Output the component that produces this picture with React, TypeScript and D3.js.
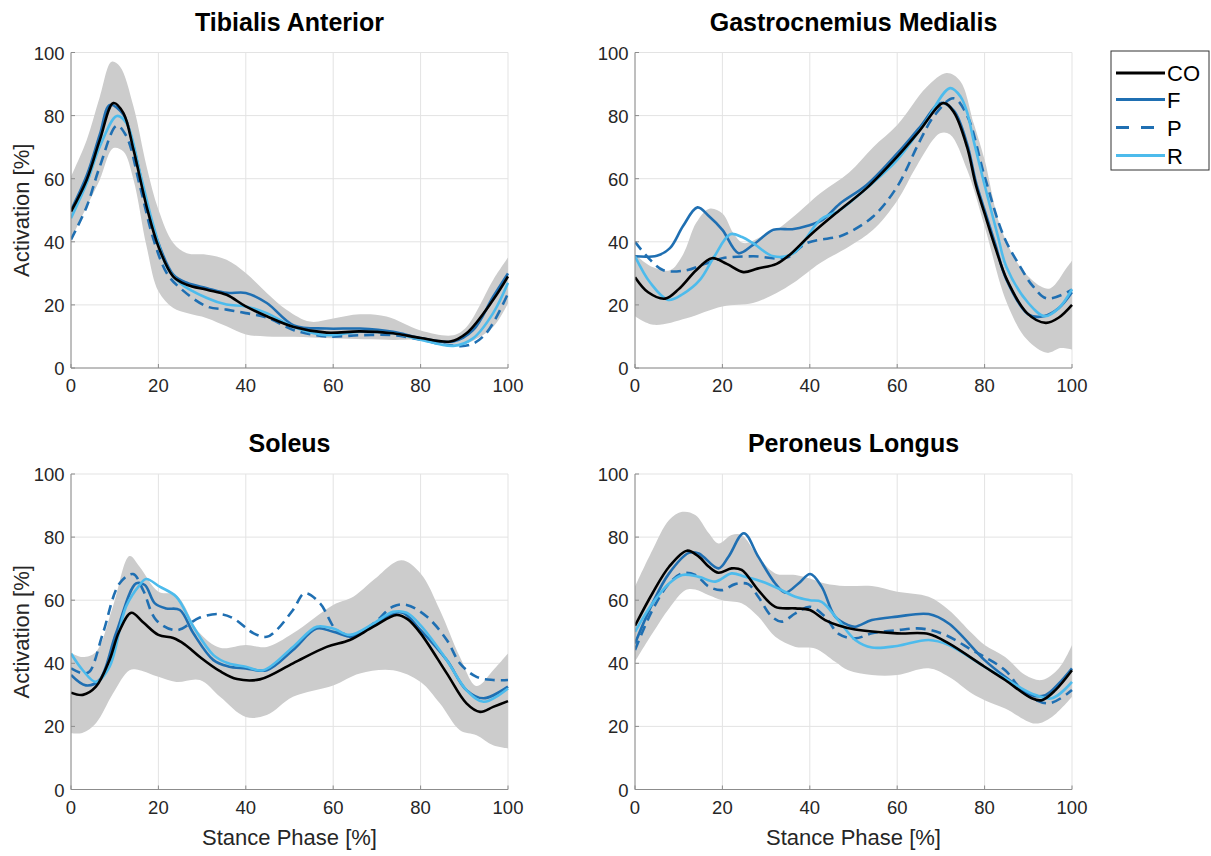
import React from "react";
import * as d3 from "d3";

type P = [number, number];

// ---------- data (stance phase %, activation %) ----------
const X_TICKS = [0, 20, 40, 60, 80, 100];
const Y_TICKS = [0, 20, 40, 60, 80, 100];
const GROUPS = ["CO", "F", "P", "R"];
const MUSCLES = ["Tibialis Anterior", "Gastrocnemius Medialis", "Soleus", "Peroneus Longus"];

const TA_CO: P[] = [[0,49.6],[3.6,59.7],[6.6,72.3],[9.7,84],[12,80.8],[14.3,69.2],[17.3,51.2],[20,38.5],[23.4,29],[26.5,26.4],[31.1,24.8],[35.6,23.2],[40,19.5],[44.8,16.4],[51,13],[58.5,11.2],[66.1,11.6],[73.7,11],[80,9.5],[86.8,8.4],[90.5,11],[96.6,21.6],[100,29]];
const TA_F: P[] = [[0,50],[3.6,61],[6.6,74],[8.9,83.4],[12,80.3],[14.3,70.2],[17.3,52.3],[20,39.6],[23.4,29.6],[26.5,27],[31.1,25.3],[35.6,23.8],[40,23.8],[44.8,20.6],[51,13.5],[58.5,12.5],[66.1,12.5],[73.7,11.5],[80,9.5],[87.5,8.4],[92,12],[96.6,22.6],[100,30]];
const TA_P: P[] = [[0,40.7],[3.6,51.2],[6.6,63.9],[10.5,76.8],[12.7,73.4],[15.8,57.5],[18.9,40.7],[21.9,30.1],[25,25.3],[31.1,19.5],[35.6,18.5],[40,17.4],[44.8,16],[51,12],[58.5,10],[66.1,10.4],[73.7,10.4],[80,9],[86,7.3],[91.2,7.3],[95,11],[100,23.6]];
const TA_R: P[] = [[0,47.5],[3.6,58.6],[6.6,70.2],[10.5,79.9],[12.7,77.6],[15.8,61.8],[18.9,44.9],[21.9,32.2],[25,26.9],[31.1,22.2],[35.6,20.1],[40,19.5],[44.8,17.4],[51,13],[58.5,10.4],[66.1,11.5],[73.7,11],[80,9],[87.5,7],[92,9.4],[96.6,17.4],[100,27]];
const TA_UP: P[] = [[0,60.7],[3.6,72.3],[6.6,86],[9.3,97.1],[11.2,95.6],[14.3,82.9],[17.3,63.9],[20,50.2],[23.4,39.6],[26.5,36.4],[31.1,35.9],[35.6,34.3],[40,30.1],[44.8,23.8],[49.4,18.4],[54.7,14.7],[60,15.7],[66.1,17],[72.2,16.3],[80,11.9],[87.5,10.4],[90.5,13],[96.6,27.9],[100,35]];
const TA_LO: P[] = [[0,40.7],[3.6,51.2],[6.6,59.7],[9.7,69.7],[12,68.6],[14.3,59.7],[17.3,38.5],[20,24.3],[23.4,19],[26.5,17.4],[31.1,15.8],[35.6,13.2],[40,10.6],[44.8,10],[51,9.9],[60,9.4],[73.7,8.9],[80,8.9],[86,7.3],[90.5,7.8],[96.6,13],[100,20.5]];

const GM_CO: P[] = [[0,28.8],[3,24],[6.9,22],[10,25],[14,31],[17.6,34.8],[21,33],[24.8,30.4],[28,31.5],[32.4,33],[35.5,36],[40,42],[46.8,50],[53,57],[60,67],[65,75],[70.6,84],[73,81],[76,70],[78,58],[80,49],[82.5,38],[85.1,28],[89.7,17.4],[94,14.3],[97,16],[100,20]];
const GM_F: P[] = [[0,35.4],[5,35.6],[8,38],[11,45],[14.3,50.9],[17,48],[20,43.8],[23.7,36.4],[27,39],[31.7,43.8],[36,44],[39.3,45],[43,47],[46.8,52],[53,58],[60,68],[65,76],[70,84],[73,81.5],[76,71],[78,59],[80,50],[82.5,39],[85,28],[90,17],[93.5,16.4],[97,19],[100,24]];
const GM_P: P[] = [[0,40],[3,35],[6.5,31],[11.8,31],[16,33],[20,34.8],[27,35.4],[34.7,35],[39.3,39.6],[46.8,41.7],[49,43],[54.5,48],[60,57.5],[65.2,72],[68.5,80],[72.9,85.5],[76,80],[80,60.7],[84.4,41.7],[88.2,32],[91,26],[94.3,22],[100,24.8]];
const GM_R: P[] = [[0,35.4],[3.5,27],[7.6,21.6],[11,23.5],[14.9,28],[18,35],[21.8,42.4],[24.5,41.5],[27,39.6],[31.7,35.4],[36.3,36.4],[42.4,47],[46.8,50],[53,57],[60,66],[66,77],[72.1,88.7],[74.5,86],[76,81],[77.5,72],[80,58],[83,42],[85,32],[90,20.6],[93.8,16.4],[97,19],[100,25]];
const GM_UP: P[] = [[0,36],[4,32],[8,31],[11,36],[14,46],[17,50.5],[20,49],[22.5,42.8],[24.8,39.6],[29.4,42],[32.4,43.8],[36.3,48],[42.4,55.4],[49,62],[54.5,70],[60,77],[66.7,89],[71.3,93.5],[74.4,91],[77.5,77.6],[80,66],[83.6,44.9],[88.2,32],[92.8,25.9],[95.1,25.3],[98.9,32],[100,34]];
const GM_LO: P[] = [[0,16.4],[4.2,13.7],[11.8,15.8],[20,19.5],[27,20.6],[32.4,23.8],[36.3,27],[42.4,33.3],[49,38.5],[54.5,43.8],[60,53],[64.4,63.9],[69.8,74.4],[72.1,74],[76,62.8],[80,44.9],[85.1,20.6],[89.7,9],[94.3,4.8],[97.4,6.3],[100,5.8]];

const SO_CO: P[] = [[0,30.7],[2.7,30],[5.7,32.6],[8.8,41],[11,50],[13.8,56],[16.5,53],[20,49],[23.4,48],[26,46],[29.5,42],[34.1,37.5],[38,35],[43.2,34.9],[50.8,40],[58.5,45.2],[63.8,47.4],[69.2,51.6],[74.5,55.3],[77,54],[80,49.5],[86,36.8],[90.5,27.3],[93.6,24.6],[96.6,26.2],[100,28]];
const SO_F: P[] = [[0,36.3],[3.4,33],[6.5,34.7],[10.3,49.5],[14.9,65.3],[16.9,64.8],[19.2,59],[21.8,57.4],[24.9,56.9],[28,49.5],[32.6,41],[36,39],[40,38.4],[44.8,37.8],[50.8,44.2],[56.2,51],[60,50],[64.6,48.4],[68.4,51.6],[73.7,55.8],[76,56],[80,50.5],[86,41],[90.5,31.5],[94.4,28.9],[100,32.6]];
const SO_P: P[] = [[0,38.4],[2.7,36.8],[4.2,37.3],[7.3,49.5],[11.1,65.3],[14.2,68.3],[16.5,63.2],[19.5,53.7],[24.1,50.5],[29.5,54.5],[34.1,55.6],[37.2,54.2],[41.8,49.5],[44.8,48.4],[47,50.5],[50.8,56.9],[53.5,62.2],[57,59],[60.8,50.5],[64.6,49],[69.2,52.6],[73.7,58],[76.8,58.5],[81.4,54.8],[86,47.4],[89,40],[92.8,35.7],[96.6,34.7],[100,34.7]];
const SO_R: P[] = [[0,43.1],[2.7,37.8],[5.7,34.1],[8.8,38.9],[12.6,58],[15.7,64.8],[17.2,66.7],[20.3,64.3],[24.1,61.1],[28,51.6],[32.6,42.6],[36,40],[40,38.9],[44,37.8],[50.8,45.2],[56.2,51.6],[60,51],[63.8,49],[69.2,52.6],[73.7,56.3],[76.8,56],[80,52],[86,41],[90.5,31.5],[94.4,27.8],[100,32]];
const SO_UP: P[] = [[0,43.3],[2.7,42],[5.7,43.6],[9.6,58],[13.4,74],[15.7,70.6],[20,62.7],[24.1,61.6],[29.5,49.5],[34.1,44.9],[40,45.8],[44.8,45.2],[50.8,49.5],[60,58.5],[64.6,61.1],[69.2,66.4],[75.6,72.7],[80,68.5],[84.4,56.9],[89,42],[92.8,32.8],[96.6,37.8],[100,43.1]];
const SO_LO: P[] = [[0,17.8],[2.7,18],[5.7,21],[9.6,30.4],[13.4,37.8],[15.7,37.8],[20,35.7],[24.1,34.1],[29.5,34.7],[34.1,29.4],[40,23],[44.8,23.6],[50.8,29.4],[60,33],[66.1,36.8],[73.7,37.8],[80,34.1],[84.4,27.3],[89,18.8],[92.8,17.2],[96.6,14],[100,13]];

const PL_CO: P[] = [[0,51.9],[4,62.2],[7.8,70.6],[11.9,75.7],[14.6,73.8],[16.9,70.6],[19.1,68.7],[22.1,70.1],[24.4,69.6],[28.2,63.2],[32.1,57.9],[36.7,57.4],[40,56.9],[43.5,53.7],[46.6,52],[50.4,50.7],[60,49.5],[67.2,49.3],[71.8,46.3],[80,38.9],[84.7,34.7],[90.8,28.9],[93.1,28.3],[96.2,31.5],[100,37.8]];
const PL_F: P[] = [[0,46.3],[4,59],[7.8,68.5],[12.3,75],[14.6,74.8],[19.1,70.1],[21.4,73.8],[24.9,81.2],[28.2,73.8],[32.1,65.3],[34.4,62.4],[37.4,65.3],[40.1,68.3],[42.7,64.3],[45.8,54.8],[48.8,52.1],[50.4,51.6],[54.2,53.7],[60,54.8],[67.2,55.6],[71.8,52.6],[80,41],[84.7,35.7],[90.8,29.9],[93.9,29.9],[97,33.6],[100,38.4]];
const PL_P: P[] = [[0,44.2],[4,56.9],[7.8,65.3],[10.8,68.5],[13.8,68],[16.9,64.3],[19.9,63.2],[22.9,65.1],[25.9,65.1],[28.2,61.1],[31.3,54.8],[33.6,53.2],[36.7,55.8],[40,57.9],[43.5,54.8],[46.6,49.3],[50.4,47.9],[54.2,49.5],[60,50.5],[65.6,51],[71,49],[77.1,44.2],[80,42],[84.7,37.8],[89.3,30.4],[94.7,27.3],[100,31.5]];
const PL_R: P[] = [[0,50],[4,59],[7.8,65.3],[10.8,68],[14.6,67.4],[18.4,65.9],[22.1,68.5],[25.2,67.4],[29,65.9],[32.8,63.7],[36.7,61.1],[40,60],[42.7,59.5],[46.5,53.7],[50.4,47.4],[54.2,45],[60,45.5],[67.2,47.4],[71.8,45.8],[80,38.9],[84.7,35.2],[90.8,30.4],[95.4,28.9],[100,34.1]];
const PL_UP: P[] = [[0,64.3],[4,75.9],[7.8,85.4],[10.8,88],[13.8,87],[16.9,81.2],[19.1,78],[22.1,80.7],[24.4,80.7],[28.2,73.8],[32.1,68.5],[36.7,68],[40,66.9],[43.5,65.3],[48,64.5],[54.2,64.5],[60,62.7],[67.2,61.1],[71.8,56.9],[77.1,49.5],[80,45.8],[84.7,42],[89.3,36.3],[93.1,34.7],[97,38.4],[100,45.8]];
const PL_LO: P[] = [[0,40.5],[4,49.5],[7.8,57.4],[11.6,63.2],[13.8,63.4],[16.9,61.6],[20,60],[24.4,59],[28.2,54.8],[32.1,48.4],[36.7,45.2],[41.2,44.7],[45.8,40.5],[48.8,37.8],[54.2,36.3],[60,36.3],[67.2,38.4],[71.8,35.7],[77.1,30.4],[80,28.3],[84.7,25.7],[91.6,20.9],[95.4,23],[100,29.4]];

// ---------- styling / layout ----------
const COLORS: Record<string, string> = { CO: "#000000", F: "#1f6fb2", P: "#1f6fb2", R: "#4dbbec" };
const DASH: Record<string, string | undefined> = { CO: undefined, F: undefined, P: "10 6", R: undefined };
const FONT = "'Liberation Sans', Arial, Helvetica, sans-serif";
const AXIS = "#8c8c8c";

const PANELS = [
  { title: MUSCLES[0], left: 71, right: 508, top: 52.5, bottom: 368, series: [TA_CO, TA_F, TA_P, TA_R], up: TA_UP, lo: TA_LO, ylab: true, xlab: false },
  { title: MUSCLES[1], left: 635, right: 1072, top: 52.5, bottom: 368, series: [GM_CO, GM_F, GM_P, GM_R], up: GM_UP, lo: GM_LO, ylab: false, xlab: false },
  { title: MUSCLES[2], left: 71, right: 508, top: 474, bottom: 789.5, series: [SO_CO, SO_F, SO_P, SO_R], up: SO_UP, lo: SO_LO, ylab: true, xlab: true },
  { title: MUSCLES[3], left: 635, right: 1072, top: 474, bottom: 789.5, series: [PL_CO, PL_F, PL_P, PL_R], up: PL_UP, lo: PL_LO, ylab: false, xlab: true },
];

function Panel({ p }: { p: (typeof PANELS)[number] }) {
  const x = d3.scaleLinear().domain([0, 100]).range([p.left, p.right]);
  const y = d3.scaleLinear().domain([0, 100]).range([p.bottom, p.top]);
  const line = d3
    .line<P>()
    .x((d) => x(d[0]))
    .y((d) => y(d[1]))
    .curve(d3.curveCatmullRom.alpha(0.5));
  const upPath = line(p.up) || "";
  const loPath = line([...p.lo].reverse()) || "";
  const band = upPath + "L" + loPath.slice(1) + "Z";
  const cx = (p.left + p.right) / 2;
  const cy = (p.top + p.bottom) / 2;
  const clipId = "clip" + p.left + "_" + Math.round(p.top);
  return (
    <g>
      <defs>
        <clipPath id={clipId}>
          <rect x={p.left} y={p.top - 2} width={p.right - p.left + 1} height={p.bottom - p.top + 3} />
        </clipPath>
      </defs>
      {X_TICKS.map((t) => (
        <line key={"gx" + t} x1={x(t)} x2={x(t)} y1={p.top} y2={p.bottom} stroke="#e3e3e3" strokeWidth={1} />
      ))}
      {Y_TICKS.map((t) => (
        <line key={"gy" + t} x1={p.left} x2={p.right} y1={y(t)} y2={y(t)} stroke="#e3e3e3" strokeWidth={1} />
      ))}
      <g clipPath={`url(#${clipId})`}>
        <path d={band} fill="#cccccc" stroke="none" />
        {[1, 2, 3, 0].map((i) => (
          <path
            key={GROUPS[i]}
            d={line(p.series[i]) || ""}
            fill="none"
            stroke={COLORS[GROUPS[i]]}
            strokeWidth={2.6}
            strokeDasharray={DASH[GROUPS[i]]}
            strokeLinejoin="round"
          />
        ))}
      </g>
      <line x1={p.left} x2={p.left} y1={p.top} y2={p.bottom} stroke={AXIS} strokeWidth={1} />
      <line x1={p.left} x2={p.right} y1={p.bottom} y2={p.bottom} stroke={AXIS} strokeWidth={1} />
      {X_TICKS.map((t) => (
        <g key={"tx" + t}>
          <line x1={x(t)} x2={x(t)} y1={p.bottom} y2={p.bottom - 4} stroke={AXIS} strokeWidth={1} />
          <text x={x(t)} y={p.bottom + 24} textAnchor="middle" fontSize={18.5} fill="#262626" fontFamily={FONT}>
            {t}
          </text>
        </g>
      ))}
      {Y_TICKS.map((t) => (
        <g key={"ty" + t}>
          <line x1={p.left} x2={p.left + 4} y1={y(t)} y2={y(t)} stroke={AXIS} strokeWidth={1} />
          <text x={p.left - 6.5} y={y(t) + 7} textAnchor="end" fontSize={18.5} fill="#262626" fontFamily={FONT}>
            {t}
          </text>
        </g>
      ))}
      <text x={cx} y={p.top - 22} textAnchor="middle" fontSize={25} fontWeight="bold" fill="#000" fontFamily={FONT}>
        {p.title}
      </text>
      {p.ylab && (
        <text
          transform={`translate(${p.left - 42},${cy}) rotate(-90)`}
          textAnchor="middle"
          fontSize={22}
          fill="#262626"
          fontFamily={FONT}
        >
          Activation [%]
        </text>
      )}
      {p.xlab && (
        <text x={cx} y={p.bottom + 55} textAnchor="middle" fontSize={22} fill="#262626" fontFamily={FONT}>
          Stance Phase [%]
        </text>
      )}
    </g>
  );
}

function Legend() {
  const lx = 1111;
  const ly = 51;
  const rows = [73, 99.5, 127.5, 155.5];
  return (
    <g>
      <rect x={lx} y={ly} width={98} height={119} fill="#fff" stroke="#333" strokeWidth={1} />
      {GROUPS.map((g, i) => (
        <g key={g}>
          <line
            x1={lx + 5}
            x2={lx + 54}
            y1={rows[i]}
            y2={rows[i]}
            stroke={COLORS[g]}
            strokeWidth={3}
            strokeDasharray={g === "P" ? "13 12" : undefined}
          />
          <text x={lx + 56} y={rows[i] + 8} fontSize={22} fill="#000" fontFamily={FONT}>
            {g}
          </text>
        </g>
      ))}
    </g>
  );
}

export default function App() {
  return (
    <svg
      width={1211}
      height={856}
      viewBox="0 0 1211 856"
      style={{ position: "absolute", left: 0, top: 0, background: "#fff" }}
    >
      <rect x={0} y={0} width={1211} height={856} fill="#fff" />
      {PANELS.map((p) => (
        <Panel key={p.title} p={p} />
      ))}
      <Legend />
    </svg>
  );
}
